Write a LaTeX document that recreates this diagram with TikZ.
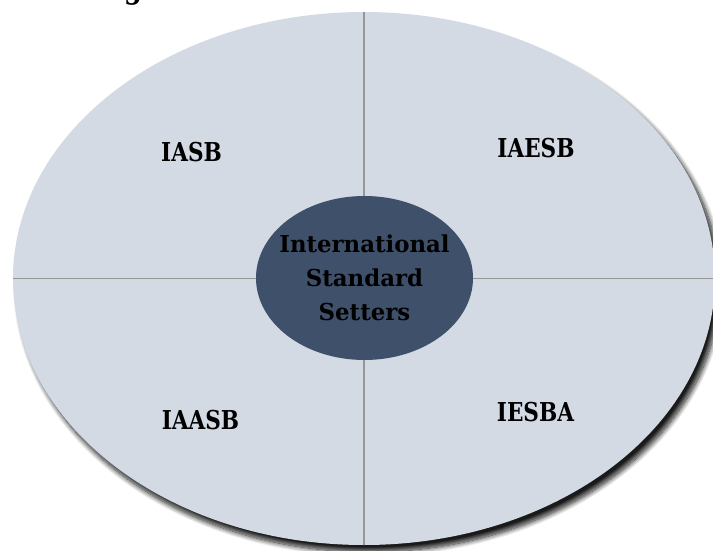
\documentclass[tikz,border=0pt]{standalone}
\usepackage{fontspec}
\setmainfont{DejaVu Serif}
\newfontfamily\quadfont[FakeStretch=0.83]{DejaVu Serif}
\newfontfamily\corefont[FakeStretch=0.98]{DejaVu Serif}
\usetikzlibrary{shapes.geometric,shadows.blur}
\definecolor{paleslate}{RGB}{211,218,228}
\definecolor{deepslate}{RGB}{63,80,107}
\definecolor{divider}{RGB}{150,150,152}
\tikzset{
  quadlabel/.style={font=\quadfont\bfseries\fontsize{26}{30}\selectfont, text=black, inner sep=0pt},
  ring/.style={ellipse, fill=paleslate, draw=none, minimum width=702pt, minimum height=533pt, inner sep=0pt,
    blur shadow={shadow xshift=5pt, shadow yshift=-7pt, shadow blur radius=5pt, shadow opacity=90, shadow blur steps=12}},
  hub/.style={ellipse, fill=deepslate, draw=none, minimum width=217pt, minimum height=164pt, inner sep=0pt},
  hubtext/.style={align=center, inner sep=0pt, font=\corefont\bfseries\fontsize{23.3}{34}\selectfont, text=black},
  split/.style={draw=divider, line width=1.3pt}
}
\begin{document}
\begin{tikzpicture}[x=1pt, y=-1pt]
  \useasboundingbox (0,0) rectangle (713,551);
  \clip (0,0) rectangle (713,551);
  % caption running off the top edge
  \node[quadlabel, font=\quadfont\bfseries\fontsize{31}{34}\selectfont, anchor=base west] (caption) at (96,-1)
    {Figure 1: International Standard Setters};
  % outer ring with its four quarters
  \node[ring] (outer) at (364,278.5) {};
  \draw[split] (outer.north) -- (outer.south);
  \draw[split] (outer.west) -- (outer.east);
  % central hub
  \node[hub] (core) at (364.5,278) {};
  \node[hubtext] (coretext) at (core.center) {International\\Standard\\Setters};
  % quarter labels
  \node[quadlabel] (iasb) at (191.5,152.5) {IASB};
  \node[quadlabel] (iaesb) at (536,148) {IAESB};
  \node[quadlabel] (iaasb) at (200.5,420) {IAASB};
  \node[quadlabel] (iesba) at (535.5,412) {IESBA};
\end{tikzpicture}
\end{document}
